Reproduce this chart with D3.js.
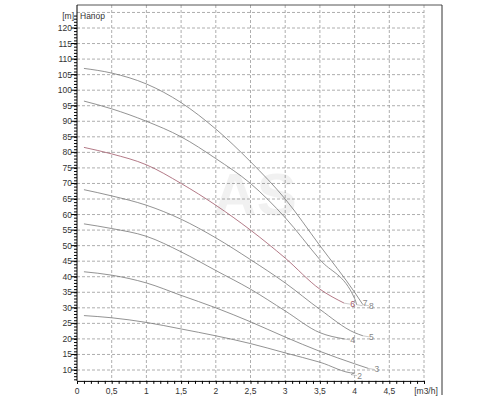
<!DOCTYPE html><html><head><meta charset="utf-8"><script src="https://cdn.jsdelivr.net/npm/d3@7"></script>
<style>body{margin:0;background:#fff}text{font-family:"Liberation Sans",Arial,sans-serif;font-size:8.5px;fill:#333}</style></head><body><svg id="c" width="500" height="400"></svg>
<script>
const xTicks=[0,0.5,1,1.5,2,2.5,3,3.5,4,4.5];
const yTicks=[10,15,20,25,30,35,40,45,50,55,60,65,70,75,80,85,90,95,100,105,110,115,120];
const q=[0.1,0.5,1,1.5,2,2.5,3,3.5,4];
const curve8=[107,105.5,102,96,87.5,77,65,50,35];
const curve7=[96.5,94,90,85,78,70,59,45.5,33];
const curve6=[81.6,79.5,76,70,63,55,46,36];
const curve5=[68,66,63,58.5,52.5,45.5,38,29.5,22];
const curve4=[57,55.5,53,48,42,36,29,22];
const curve3=[41.6,40.5,38,34,30,25.5,20.6,16,12];
const curve2=[27.5,26.8,25.3,23.2,21,18.5,15.5,12.5,9];
const ends=[[4.12,31],[4.03,31],[3.85,31.5],[4.12,21],[3.85,20],[4.2,10.5],[3.95,8.5]];
const labels=["8","7","6","5","4","3","2"];
const series=[curve8,curve7,curve6,curve5,curve4,curve3,curve2];
const colors=["#777","#777","#a05868","#777","#777","#777","#777"];
const svg=d3.select("#c");
const x=d3.scaleLinear().domain([0,5]).range([77,424]);
const y=d3.scaleLinear().domain([10,120]).range([370,28]);
const yb=y(6.5), yt=5;
svg.append("g").selectAll("line").data(xTicks.slice(1).concat([5])).join("line").attr("x1",d=>x(d)).attr("x2",d=>x(d)).attr("y1",yt).attr("y2",yb).attr("stroke","#999").attr("stroke-dasharray","3,2").attr("stroke-width",0.8);
svg.append("g").selectAll("line").data(yTicks.concat([125])).join("line").attr("x1",x(0)).attr("x2",x(5)).attr("y1",d=>y(d)).attr("y2",d=>y(d)).attr("stroke","#999").attr("stroke-dasharray","3,2").attr("stroke-width",0.8);
svg.append("line").attr("x1",x(0)).attr("x2",442).attr("y1",yt).attr("y2",yt).attr("stroke","#555");
svg.append("line").attr("x1",442).attr("x2",442).attr("y1",yt).attr("y2",395).attr("stroke","#333");
const xa=svg.append("g").attr("transform",`translate(0,${yb})`).call(d3.axisBottom(x).tickValues(d3.range(0,5.01,0.1)).tickSize(3).tickFormat(""));
xa.selectAll("path,line").attr("stroke","#000");
svg.append("g").selectAll("text").data(xTicks).join("text").attr("x",d=>x(d)).attr("y",yb+13).attr("text-anchor","middle").text(d=>String(d).replace(".",","));
svg.append("text").attr("x",x(5)+2).attr("y",yb+13).attr("text-anchor","middle").text("[m3/h]");
const ya=svg.append("g").attr("transform",`translate(${x(0)},0)`).call(d3.axisLeft(y).tickValues(d3.range(7,125,1)).tickSize(3).tickFormat(""));
ya.selectAll("line").attr("stroke","#000");ya.select("path").remove();
svg.append("line").attr("x1",x(0)).attr("x2",x(0)).attr("y1",yt).attr("y2",yb).attr("stroke","#000");
svg.append("g").selectAll("line").data(yTicks).join("line").attr("x1",x(0)-6).attr("x2",x(0)).attr("y1",d=>y(d)).attr("y2",d=>y(d)).attr("stroke","#000");
svg.append("g").selectAll("text").data(yTicks).join("text").attr("x",x(0)-5).attr("y",d=>y(d)+3).attr("text-anchor","end").text(d=>d);
svg.append("text").attr("x",x(0)-3).attr("y",y(124)+3).attr("text-anchor","end").text("[m]");
svg.append("text").attr("x",x(0)+3).attr("y",y(124)+3).text("Напор");
svg.append("text").attr("x",255).attr("y",215).attr("text-anchor","middle").style("font-size","60px").style("font-weight","bold").style("fill","#000").style("opacity",0.05).text("AS");
const line=d3.line().x(d=>x(d[0])).y(d=>y(d[1])).curve(d3.curveMonotoneX);
series.forEach((s,i)=>{
  const pts=s.map((v,j)=>[q[j],v]); pts.push(ends[i]);
  svg.append("path").attr("d",line(pts)).attr("fill","none").attr("stroke",colors[i]).attr("stroke-width",0.8);
  const e=ends[i];
  svg.append("line").attr("x1",x(e[0])).attr("y1",y(e[1])).attr("x2",x(e[0])+6).attr("y2",y(e[1])+1).attr("stroke","#aaa").attr("stroke-width",0.6);
  svg.append("text").attr("x",x(e[0])+6).attr("y",y(e[1])+(i==1?1:4)).style("fill",i==2?"#a05868":"#888").text(labels[i]);
});
</script></body></html>
